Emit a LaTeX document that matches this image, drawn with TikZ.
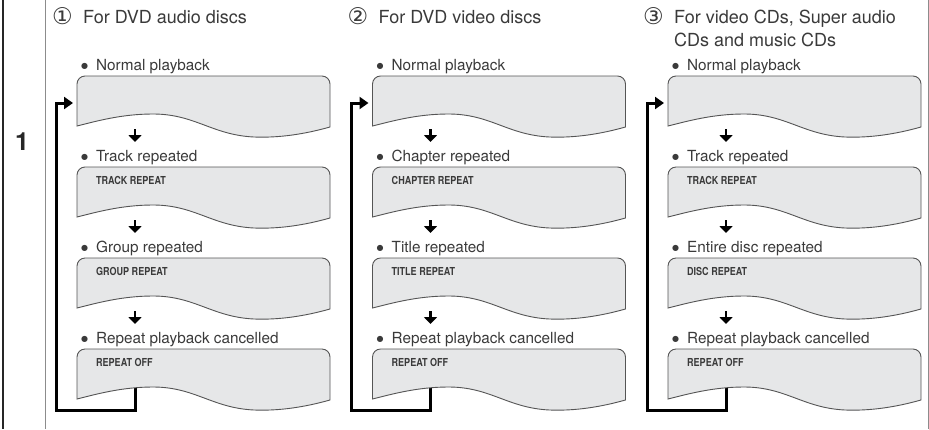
\documentclass[tikz,border=0pt]{standalone}
\usepackage{fontspec}
\setmainfont{TeX Gyre Heros}
\newfontfamily\symfont{DejaVu Sans}
\usetikzlibrary{arrows.meta}
\definecolor{lcd}{HTML}{E6E7E8}
\definecolor{txt}{HTML}{3A3A3A}
\definecolor{edge}{HTML}{555555}
\tikzset{
  lcdshape/.style={fill=lcd, draw=edge, line width=0.9pt},
  headtxt/.style={anchor=base west, inner sep=0pt, font=\fontsize{18}{22}\selectfont, text=txt},
  numtxt/.style={anchor=base west, inner sep=0pt, font=\symfont\fontsize{23}{24}\selectfont, text=txt},
  itemtxt/.style={anchor=base west, inner sep=0pt, font=\fontsize{15.3}{18}\selectfont, text=txt},
  tagtxt/.style={anchor=base west, inner sep=0pt, font=\bfseries\fontsize{11}{12}\selectfont, text=txt},
  downarrow/.style={-{Triangle[length=7pt,width=13pt]}, line width=2.8pt, black},
  looparrow/.style={-{Triangle[length=9pt,width=12pt]}, line width=3pt, black, line join=miter},
}
\newcommand\tagbox[1]{\scalebox{0.82}[1]{#1}}
\newcommand\blt{\raisebox{1.6pt}{\symfont\fontsize{8}{8}\selectfont ●}\hspace{8pt}}
\newcommand\lcdpanel[3]{% name, x, top
  \draw[lcdshape] (#2,#3+50) -- (#2,#3+8) .. controls (#2,#3+3.6) and (#2+3.6,#3) .. (#2+8,#3)
    -- (#2+245,#3) .. controls (#2+249.4,#3) and (#2+253,#3+3.6) .. (#2+253,#3+8)
    -- (#2+253,#3+51) .. controls (#2+228,#3+58) and (#2+203,#3+62) .. (#2+177,#3+61)
    .. controls (#2+135,#3+59) and (#2+118,#3+38) .. (#2+76,#3+38)
    .. controls (#2+45,#3+38) and (#2+20,#3+45) .. (#2,#3+50) -- cycle;
  \coordinate (#1) at (#2,#3);
}
\newcommand\discol[9]{% id, xshift, number, header, item2, tag2, item3, tag3, unused
  \begin{scope}[xshift=#2]
    % loop back arrow
    \coordinate (c#1-o) at (135,385);
    \coordinate (c#1-lc) at (56,410);
    \coordinate (c#1-in) at (73,103);
    \draw[looparrow] (c#1-o) |- (c#1-lc) |- (c#1-in);
    % panels
    \foreach \k/\t in {1/76,2/167,3/258,4/349}{
      \lcdpanel{c#1-b\k}{77}{\t}
    }
    \foreach \k/\t in {1/76,2/167,3/258}{
      \coordinate (c#1-s\k) at (135,\t+53);
      \coordinate (c#1-e\k) at (135,\t+66);
      \draw[downarrow] (c#1-s\k) -- (c#1-e\k);
    }
    \node[numtxt] (c#1-n) at (52,24) {#3};
    \node[headtxt] (c#1-h) at (83,23) {#4};
    \node[itemtxt] (c#1-i1) at (81,70) {\blt Normal playback};
    \node[itemtxt] (c#1-i2) at (81,161) {\blt #5};
    \node[tagtxt] (c#1-t2) at (96,184) {\tagbox{#6}};
    \node[itemtxt] (c#1-i3) at (81,252) {\blt #7};
    \node[tagtxt] (c#1-t3) at (96,275) {\tagbox{#8}};
    \node[itemtxt] (c#1-i4) at (81,343) {\blt Repeat playback cancelled};
    \node[tagtxt] (c#1-t4) at (96,366) {\tagbox{REPEAT OFF}};
  \end{scope}
}
\begin{document}
\begin{tikzpicture}[x=1pt,y=-1pt]
  \useasboundingbox (0,0) rectangle (929,429);
  \fill[white] (0,0) rectangle (929,429);
  % frame
  \draw[line width=2.2pt, black!85] (3,0) -- (3,429);
  \draw[line width=1pt, black!45] (45.5,0) -- (45.5,429);
  \draw[line width=1pt, black!45] (928,0) -- (928,429);
  \node[font=\bfseries\fontsize{25}{25}\selectfont, text=black!85] (step1) at (22,142) {1};
  \discol{1}{0}{①}{For DVD audio discs}{Track repeated}{TRACK REPEAT}{Group repeated}{GROUP REPEAT}{}
  \discol{2}{295.5}{②}{For DVD video discs}{Chapter repeated}{CHAPTER REPEAT}{Title repeated}{TITLE REPEAT}{}
  \discol{3}{591}{③}{For video CDs, Super audio}{Track repeated}{TRACK REPEAT}{Entire disc repeated}{DISC REPEAT}{}
  \node[headtxt] (c3-h2) at (674,46) {CDs and music CDs};
\end{tikzpicture}
\end{document}
